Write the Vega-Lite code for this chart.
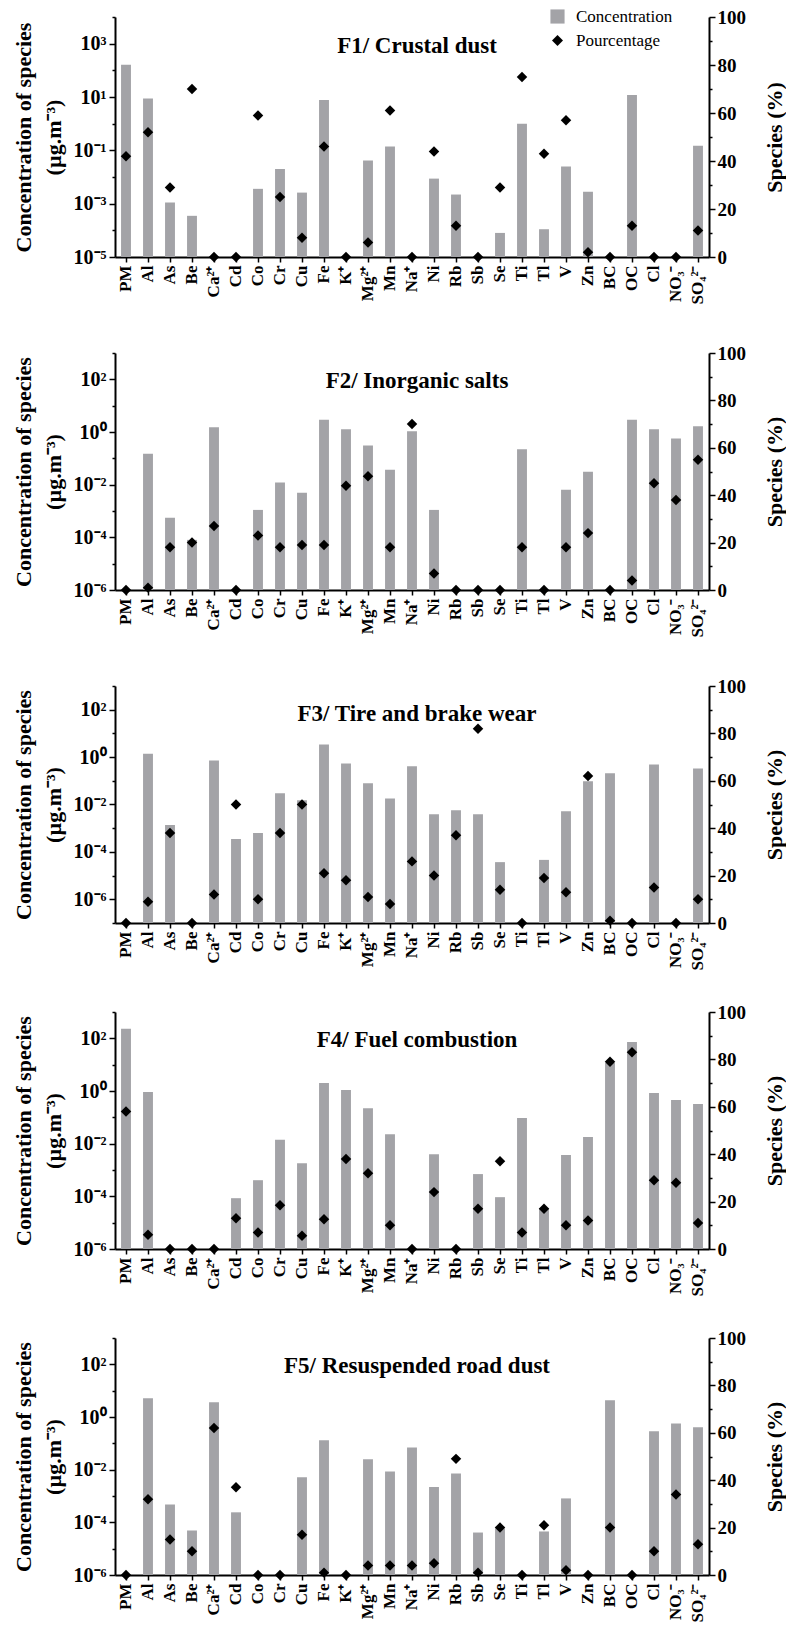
{
  "$schema": "https://vega.github.io/schema/vega-lite/v6.json",
  "padding": {"top": 7, "left": 12, "right": 0, "bottom": 0},
  "background": "white",
  "datasets": {
    "f1": [
      {"species": "PM", "conc": 163, "pct": 42},
      {"species": "Al", "conc": 8.7, "pct": 52},
      {"species": "As", "conc": 0.0011, "pct": 29},
      {"species": "Be", "conc": 0.00035, "pct": 70},
      {"species": "Ca²⁺", "conc": null, "pct": 0},
      {"species": "Cd", "conc": null, "pct": 0},
      {"species": "Co", "conc": 0.0036, "pct": 59},
      {"species": "Cr", "conc": 0.02, "pct": 25},
      {"species": "Cu", "conc": 0.0026, "pct": 8},
      {"species": "Fe", "conc": 7.7, "pct": 46},
      {"species": "K⁺", "conc": null, "pct": 0},
      {"species": "Mg²⁺", "conc": 0.042, "pct": 6},
      {"species": "Mn", "conc": 0.14, "pct": 61},
      {"species": "Na⁺", "conc": null, "pct": 0},
      {"species": "Ni", "conc": 0.0087, "pct": 44},
      {"species": "Rb", "conc": 0.0022, "pct": 13},
      {"species": "Sb", "conc": null, "pct": 0},
      {"species": "Se", "conc": 0.00008, "pct": 29},
      {"species": "Ti", "conc": 1.0, "pct": 75},
      {"species": "Tl", "conc": 0.00011, "pct": 43},
      {"species": "V", "conc": 0.025, "pct": 57},
      {"species": "Zn", "conc": 0.0028, "pct": 2},
      {"species": "BC", "conc": null, "pct": 0},
      {"species": "OC", "conc": 11.8, "pct": 13},
      {"species": "Cl", "conc": null, "pct": 0},
      {"species": "NO₃⁻", "conc": null, "pct": 0},
      {"species": "SO₄²⁻", "conc": 0.15, "pct": 11}
    ],
    "f2": [
      {"species": "PM", "conc": null, "pct": 0},
      {"species": "Al", "conc": 0.15, "pct": 1},
      {"species": "As", "conc": 0.00055, "pct": 18},
      {"species": "Be", "conc": 0.00008, "pct": 20},
      {"species": "Ca²⁺", "conc": 1.5, "pct": 27},
      {"species": "Cd", "conc": null, "pct": 0},
      {"species": "Co", "conc": 0.0011, "pct": 23},
      {"species": "Cr", "conc": 0.012, "pct": 18},
      {"species": "Cu", "conc": 0.0049, "pct": 19},
      {"species": "Fe", "conc": 2.9, "pct": 19},
      {"species": "K⁺", "conc": 1.26, "pct": 44},
      {"species": "Mg²⁺", "conc": 0.31, "pct": 48},
      {"species": "Mn", "conc": 0.037, "pct": 18},
      {"species": "Na⁺", "conc": 1.06, "pct": 70},
      {"species": "Ni", "conc": 0.0011, "pct": 7},
      {"species": "Rb", "conc": null, "pct": 0},
      {"species": "Sb", "conc": null, "pct": 0},
      {"species": "Se", "conc": null, "pct": 0},
      {"species": "Ti", "conc": 0.22, "pct": 18},
      {"species": "Tl", "conc": null, "pct": 0},
      {"species": "V", "conc": 0.0064, "pct": 18},
      {"species": "Zn", "conc": 0.031, "pct": 24},
      {"species": "BC", "conc": null, "pct": 0},
      {"species": "OC", "conc": 2.9, "pct": 4},
      {"species": "Cl", "conc": 1.26, "pct": 45},
      {"species": "NO₃⁻", "conc": 0.57, "pct": 38},
      {"species": "SO₄²⁻", "conc": 1.65, "pct": 55}
    ],
    "f3": [
      {"species": "PM", "conc": null, "pct": 0},
      {"species": "Al", "conc": 1.4, "pct": 9},
      {"species": "As", "conc": 0.00135, "pct": 38},
      {"species": "Be", "conc": null, "pct": 0},
      {"species": "Ca²⁺", "conc": 0.72, "pct": 12},
      {"species": "Cd", "conc": 0.00035, "pct": 50},
      {"species": "Co", "conc": 0.00062, "pct": 10},
      {"species": "Cr", "conc": 0.03, "pct": 38},
      {"species": "Cu", "conc": 0.015, "pct": 50},
      {"species": "Fe", "conc": 3.4, "pct": 21},
      {"species": "K⁺", "conc": 0.54, "pct": 18},
      {"species": "Mg²⁺", "conc": 0.078, "pct": 11},
      {"species": "Mn", "conc": 0.018, "pct": 8},
      {"species": "Na⁺", "conc": 0.41, "pct": 26},
      {"species": "Ni", "conc": 0.0039, "pct": 20},
      {"species": "Rb", "conc": 0.0057, "pct": 37},
      {"species": "Sb", "conc": 0.0039, "pct": 82},
      {"species": "Se", "conc": 0.000037, "pct": 14},
      {"species": "Ti", "conc": null, "pct": 0},
      {"species": "Tl", "conc": 0.000046, "pct": 19},
      {"species": "V", "conc": 0.0052, "pct": 13},
      {"species": "Zn", "conc": 0.095, "pct": 62},
      {"species": "BC", "conc": 0.21, "pct": 1},
      {"species": "OC", "conc": null, "pct": 0},
      {"species": "Cl", "conc": 0.49, "pct": 15},
      {"species": "NO₃⁻", "conc": null, "pct": 0},
      {"species": "SO₄²⁻", "conc": 0.33, "pct": 10}
    ],
    "f4": [
      {"species": "PM", "conc": 229, "pct": 58},
      {"species": "Al", "conc": 0.91, "pct": 6},
      {"species": "As", "conc": null, "pct": 0},
      {"species": "Be", "conc": null, "pct": 0},
      {"species": "Ca²⁺", "conc": null, "pct": 0},
      {"species": "Cd", "conc": 0.000085, "pct": 13},
      {"species": "Co", "conc": 0.00041, "pct": 7},
      {"species": "Cr", "conc": 0.014, "pct": 18.5},
      {"species": "Cu", "conc": 0.0018, "pct": 5.6},
      {"species": "Fe", "conc": 2.0, "pct": 12.6},
      {"species": "K⁺", "conc": 1.09, "pct": 38},
      {"species": "Mg²⁺", "conc": 0.22, "pct": 32},
      {"species": "Mn", "conc": 0.023, "pct": 10},
      {"species": "Na⁺", "conc": null, "pct": 0},
      {"species": "Ni", "conc": 0.004, "pct": 24},
      {"species": "Rb", "conc": null, "pct": 0},
      {"species": "Sb", "conc": 0.0007, "pct": 17},
      {"species": "Se", "conc": 0.000093, "pct": 37},
      {"species": "Ti", "conc": 0.094, "pct": 7},
      {"species": "Tl", "conc": 0.000036, "pct": 17},
      {"species": "V", "conc": 0.0037, "pct": 10},
      {"species": "Zn", "conc": 0.018, "pct": 12},
      {"species": "BC", "conc": 11.6, "pct": 79},
      {"species": "OC", "conc": 73, "pct": 83},
      {"species": "Cl", "conc": 0.84, "pct": 29},
      {"species": "NO₃⁻", "conc": 0.46, "pct": 28},
      {"species": "SO₄²⁻", "conc": 0.32, "pct": 11}
    ],
    "f5": [
      {"species": "PM", "conc": null, "pct": 0},
      {"species": "Al", "conc": 5.1, "pct": 32},
      {"species": "As", "conc": 0.00048, "pct": 15},
      {"species": "Be", "conc": 0.000049, "pct": 10},
      {"species": "Ca²⁺", "conc": 3.6, "pct": 62},
      {"species": "Cd", "conc": 0.00024, "pct": 37},
      {"species": "Co", "conc": null, "pct": 0},
      {"species": "Cr", "conc": null, "pct": 0},
      {"species": "Cu", "conc": 0.0051, "pct": 17},
      {"species": "Fe", "conc": 0.13, "pct": 1},
      {"species": "K⁺", "conc": null, "pct": 0},
      {"species": "Mg²⁺", "conc": 0.025, "pct": 4},
      {"species": "Mn", "conc": 0.0086, "pct": 4},
      {"species": "Na⁺", "conc": 0.07, "pct": 4},
      {"species": "Ni", "conc": 0.0022, "pct": 5},
      {"species": "Rb", "conc": 0.0072, "pct": 49},
      {"species": "Sb", "conc": 0.000041, "pct": 1},
      {"species": "Se", "conc": 0.000059, "pct": 20},
      {"species": "Ti", "conc": null, "pct": 0},
      {"species": "Tl", "conc": 0.000045, "pct": 21},
      {"species": "V", "conc": 0.00081, "pct": 2},
      {"species": "Zn", "conc": null, "pct": 0},
      {"species": "BC", "conc": 4.3, "pct": 20},
      {"species": "OC", "conc": null, "pct": 0},
      {"species": "Cl", "conc": 0.29, "pct": 10},
      {"species": "NO₃⁻", "conc": 0.57, "pct": 34},
      {"species": "SO₄²⁻", "conc": 0.41, "pct": 13}
    ]
  },
  "spacing": 39,
  "vconcat": [
    {
      "width": 594, "height": 240,
      "data": {"name": "f1"},
      "title": {"text": "F1/ Crustal dust", "offset": -51, "dx": 5},
      "encoding": {
        "x": {"field": "species", "type": "nominal", "sort": null,
              "scale": {"domain": ["PM","Al","As","Be","Ca²⁺","Cd","Co","Cr","Cu","Fe","K⁺","Mg²⁺","Mn","Na⁺","Ni","Rb","Sb","Se","Ti","Tl","V","Zn","BC","OC","Cl","NO₃⁻","SO₄²⁻"], "paddingInner": 0.55, "paddingOuter": 0.275},
              "axis": {"title": null, "labelAngle": -90, "labelAlign": "right", "labelBaseline": "middle", "labelFontSize": 17, "tickSize": 5, "labelPadding": 3}}
      },
      "layer": [
        {
          "mark": {"type": "bar"},
          "encoding": {
            "y": {"field": "conc", "type": "quantitative", "scale": {"type": "log", "domain": [0.00001, 10000], "nice": false},
                  "axis": {"title": ["Concentration of species", "(µg.m⁻³)"], "values": [0.00001, 0.0001, 0.001, 0.01, 0.1, 1, 10, 100, 1000, 10000],
                           "labelExpr": "abs(round(log(datum.value)/LN10)) % 2 == 1 ? '10' + replace(replace(replace(replace(replace(replace(replace(replace(replace('' + round(log(datum.value)/LN10), '-', '⁻'), '0', '⁰'), '1', '¹'), '2', '²'), '3', '³'), '4', '⁴'), '5', '⁵'), '6', '⁶'), '7', '⁷') : ''",
                           "tickSize": {"condition": {"test": "abs(round(log(datum.value)/LN10)) % 2 == 1", "value": 6}, "value": 3}}},
            "y2": {"datum": 0.00001},
            "color": {"datum": "Concentration", "type": "nominal", "scale": {"range": ["#a3a3a7"]},
                      "legend": {"orient": "none", "legendX": 434, "legendY": -9, "title": null, "symbolType": "square", "symbolSize": 200, "symbolStrokeWidth": 0}}
          }
        },
        {
          "mark": {"type": "point", "filled": true, "color": "black", "size": 110, "opacity": 1, "clip": false},
          "encoding": {
            "y": {"field": "pct", "type": "quantitative", "scale": {"domain": [0, 100], "nice": false},
                  "axis": {"orient": "right", "title": "Species (%)", "titleAngle": -90, "titleBaseline": "top", "values": [0, 10, 20, 30, 40, 50, 60, 70, 80, 90, 100],
                           "labelExpr": "datum.value % 20 == 0 ? datum.label : ''", "labelFontSize": 19, "labelPadding": 2, "titlePadding": 19,
                           "tickSize": {"condition": {"test": "datum.value % 20 == 0", "value": 6}, "value": 3}}},
            "shape": {"datum": "Pourcentage", "type": "nominal", "scale": {"range": ["diamond"]},
                      "legend": {"orient": "none", "legendX": 434, "legendY": 15, "title": null, "symbolFillColor": "black", "symbolStrokeColor": "black", "symbolSize": 120}}
          }
        }
      ],
      "resolve": {"scale": {"y": "independent"}}
    },
    {
      "width": 594, "height": 237,
      "data": {"name": "f2"},
      "title": {"text": "F2/ Inorganic salts", "offset": -50, "dx": 5},
      "encoding": {
        "x": {"field": "species", "type": "nominal", "sort": null,
              "scale": {"domain": ["PM","Al","As","Be","Ca²⁺","Cd","Co","Cr","Cu","Fe","K⁺","Mg²⁺","Mn","Na⁺","Ni","Rb","Sb","Se","Ti","Tl","V","Zn","BC","OC","Cl","NO₃⁻","SO₄²⁻"], "paddingInner": 0.55, "paddingOuter": 0.275},
              "axis": {"title": null, "labelAngle": -90, "labelAlign": "right", "labelBaseline": "middle", "labelFontSize": 17, "tickSize": 5, "labelPadding": 3}}
      },
      "layer": [
        {
          "mark": {"type": "bar", "color": "#a3a3a7"},
          "encoding": {
            "y": {"field": "conc", "type": "quantitative", "scale": {"type": "log", "domain": [0.000001, 1000], "nice": false},
                  "axis": {"title": ["Concentration of species", "(µg.m⁻³)"], "values": [0.000001, 0.00001, 0.0001, 0.001, 0.01, 0.1, 1, 10, 100, 1000],
                           "labelExpr": "abs(round(log(datum.value)/LN10)) % 2 == 0 && datum.value < 500 ? '10' + replace(replace(replace(replace(replace(replace(replace(replace(replace('' + round(log(datum.value)/LN10), '-', '⁻'), '0', '⁰'), '1', '¹'), '2', '²'), '3', '³'), '4', '⁴'), '5', '⁵'), '6', '⁶'), '7', '⁷') : ''",
                           "tickSize": {"condition": {"test": "abs(round(log(datum.value)/LN10)) % 2 == 0 && datum.value < 500", "value": 6}, "value": 3}}},
            "y2": {"datum": 0.000001}
          }
        },
        {
          "mark": {"type": "point", "shape": "diamond", "filled": true, "color": "black", "size": 110, "opacity": 1, "clip": false},
          "encoding": {
            "y": {"field": "pct", "type": "quantitative", "scale": {"domain": [0, 100], "nice": false},
                  "axis": {"orient": "right", "title": "Species (%)", "titleAngle": -90, "titleBaseline": "top", "values": [0, 10, 20, 30, 40, 50, 60, 70, 80, 90, 100],
                           "labelExpr": "datum.value % 20 == 0 ? datum.label : ''", "labelFontSize": 19, "labelPadding": 2, "titlePadding": 19,
                           "tickSize": {"condition": {"test": "datum.value % 20 == 0", "value": 6}, "value": 3}}}
          }
        }
      ],
      "resolve": {"scale": {"y": "independent"}}
    },
    {
      "spacing": 32,
      "vconcat": [
        {
          "width": 594, "height": 237,
          "data": {"name": "f3"},
          "title": {"text": "F3/ Tire and brake wear", "offset": -50, "dx": 5},
          "encoding": {
            "x": {"field": "species", "type": "nominal", "sort": null,
                  "scale": {"domain": ["PM","Al","As","Be","Ca²⁺","Cd","Co","Cr","Cu","Fe","K⁺","Mg²⁺","Mn","Na⁺","Ni","Rb","Sb","Se","Ti","Tl","V","Zn","BC","OC","Cl","NO₃⁻","SO₄²⁻"], "paddingInner": 0.55, "paddingOuter": 0.275},
                  "axis": {"title": null, "labelAngle": -90, "labelAlign": "right", "labelBaseline": "middle", "labelFontSize": 17, "tickSize": 5, "labelPadding": 3}}
          },
          "layer": [
            {
              "mark": {"type": "bar", "color": "#a3a3a7"},
              "encoding": {
                "y": {"field": "conc", "type": "quantitative", "scale": {"type": "log", "domain": [0.0000001, 1000], "nice": false},
                      "axis": {"title": ["Concentration of species", "(µg.m⁻³)"], "values": [0.0000001, 0.000001, 0.00001, 0.0001, 0.001, 0.01, 0.1, 1, 10, 100, 1000],
                               "labelExpr": "abs(round(log(datum.value)/LN10)) % 2 == 0 && datum.value < 500 ? '10' + replace(replace(replace(replace(replace(replace(replace(replace(replace('' + round(log(datum.value)/LN10), '-', '⁻'), '0', '⁰'), '1', '¹'), '2', '²'), '3', '³'), '4', '⁴'), '5', '⁵'), '6', '⁶'), '7', '⁷') : ''",
                               "tickSize": {"condition": {"test": "abs(round(log(datum.value)/LN10)) % 2 == 0 && datum.value < 500", "value": 6}, "value": 3}}},
                "y2": {"datum": 0.0000001}
              }
            },
            {
              "mark": {"type": "point", "shape": "diamond", "filled": true, "color": "black", "size": 110, "opacity": 1, "clip": false},
              "encoding": {
                "y": {"field": "pct", "type": "quantitative", "scale": {"domain": [0, 100], "nice": false},
                      "axis": {"orient": "right", "title": "Species (%)", "titleAngle": -90, "titleBaseline": "top", "values": [0, 10, 20, 30, 40, 50, 60, 70, 80, 90, 100],
                               "labelExpr": "datum.value % 20 == 0 ? datum.label : ''", "labelFontSize": 19, "labelPadding": 2, "titlePadding": 19,
                               "tickSize": {"condition": {"test": "datum.value % 20 == 0", "value": 6}, "value": 3}}}
              }
            }
          ],
          "resolve": {"scale": {"y": "independent"}}
        },
        {
          "width": 594, "height": 237,
          "data": {"name": "f4"},
          "title": {"text": "F4/ Fuel combustion", "offset": -50, "dx": 5},
          "encoding": {
            "x": {"field": "species", "type": "nominal", "sort": null,
                  "scale": {"domain": ["PM","Al","As","Be","Ca²⁺","Cd","Co","Cr","Cu","Fe","K⁺","Mg²⁺","Mn","Na⁺","Ni","Rb","Sb","Se","Ti","Tl","V","Zn","BC","OC","Cl","NO₃⁻","SO₄²⁻"], "paddingInner": 0.55, "paddingOuter": 0.275},
                  "axis": {"title": null, "labelAngle": -90, "labelAlign": "right", "labelBaseline": "middle", "labelFontSize": 17, "tickSize": 5, "labelPadding": 3}}
          },
          "layer": [
            {
              "mark": {"type": "bar", "color": "#a3a3a7"},
              "encoding": {
                "y": {"field": "conc", "type": "quantitative", "scale": {"type": "log", "domain": [0.000001, 1000], "nice": false},
                      "axis": {"title": ["Concentration of species", "(µg.m⁻³)"], "values": [0.000001, 0.00001, 0.0001, 0.001, 0.01, 0.1, 1, 10, 100, 1000],
                               "labelExpr": "abs(round(log(datum.value)/LN10)) % 2 == 0 && datum.value < 500 ? '10' + replace(replace(replace(replace(replace(replace(replace(replace(replace('' + round(log(datum.value)/LN10), '-', '⁻'), '0', '⁰'), '1', '¹'), '2', '²'), '3', '³'), '4', '⁴'), '5', '⁵'), '6', '⁶'), '7', '⁷') : ''",
                               "tickSize": {"condition": {"test": "abs(round(log(datum.value)/LN10)) % 2 == 0 && datum.value < 500", "value": 6}, "value": 3}}},
                "y2": {"datum": 0.000001}
              }
            },
            {
              "mark": {"type": "point", "shape": "diamond", "filled": true, "color": "black", "size": 110, "opacity": 1, "clip": false},
              "encoding": {
                "y": {"field": "pct", "type": "quantitative", "scale": {"domain": [0, 100], "nice": false},
                      "axis": {"orient": "right", "title": "Species (%)", "titleAngle": -90, "titleBaseline": "top", "values": [0, 10, 20, 30, 40, 50, 60, 70, 80, 90, 100],
                               "labelExpr": "datum.value % 20 == 0 ? datum.label : ''", "labelFontSize": 19, "labelPadding": 2, "titlePadding": 19,
                               "tickSize": {"condition": {"test": "datum.value % 20 == 0", "value": 6}, "value": 3}}}
              }
            }
          ],
          "resolve": {"scale": {"y": "independent"}}
        },
        {
          "width": 594, "height": 237,
          "data": {"name": "f5"},
          "title": {"text": "F5/ Resuspended road dust", "offset": -50, "dx": 5},
          "encoding": {
            "x": {"field": "species", "type": "nominal", "sort": null,
                  "scale": {"domain": ["PM","Al","As","Be","Ca²⁺","Cd","Co","Cr","Cu","Fe","K⁺","Mg²⁺","Mn","Na⁺","Ni","Rb","Sb","Se","Ti","Tl","V","Zn","BC","OC","Cl","NO₃⁻","SO₄²⁻"], "paddingInner": 0.55, "paddingOuter": 0.275},
                  "axis": {"title": null, "labelAngle": -90, "labelAlign": "right", "labelBaseline": "middle", "labelFontSize": 17, "tickSize": 5, "labelPadding": 3}}
          },
          "layer": [
            {
              "mark": {"type": "bar", "color": "#a3a3a7"},
              "encoding": {
                "y": {"field": "conc", "type": "quantitative", "scale": {"type": "log", "domain": [0.000001, 1000], "nice": false},
                      "axis": {"title": ["Concentration of species", "(µg.m⁻³)"], "values": [0.000001, 0.00001, 0.0001, 0.001, 0.01, 0.1, 1, 10, 100, 1000],
                               "labelExpr": "abs(round(log(datum.value)/LN10)) % 2 == 0 && datum.value < 500 ? '10' + replace(replace(replace(replace(replace(replace(replace(replace(replace('' + round(log(datum.value)/LN10), '-', '⁻'), '0', '⁰'), '1', '¹'), '2', '²'), '3', '³'), '4', '⁴'), '5', '⁵'), '6', '⁶'), '7', '⁷') : ''",
                               "tickSize": {"condition": {"test": "abs(round(log(datum.value)/LN10)) % 2 == 0 && datum.value < 500", "value": 6}, "value": 3}}},
                "y2": {"datum": 0.000001}
              }
            },
            {
              "mark": {"type": "point", "shape": "diamond", "filled": true, "color": "black", "size": 110, "opacity": 1, "clip": false},
              "encoding": {
                "y": {"field": "pct", "type": "quantitative", "scale": {"domain": [0, 100], "nice": false},
                      "axis": {"orient": "right", "title": "Species (%)", "titleAngle": -90, "titleBaseline": "top", "values": [0, 10, 20, 30, 40, 50, 60, 70, 80, 90, 100],
                               "labelExpr": "datum.value % 20 == 0 ? datum.label : ''", "labelFontSize": 19, "labelPadding": 2, "titlePadding": 19,
                               "tickSize": {"condition": {"test": "datum.value % 20 == 0", "value": 6}, "value": 3}}}
              }
            }
          ],
          "resolve": {"scale": {"y": "independent"}}
        }
      ]
    }
  ],
  "resolve": {"legend": {"color": "independent", "shape": "independent"}},
  "config": {
    "view": {"stroke": null},
    "font": "Liberation Serif",
    "axis": {"labelFont": "Liberation Serif", "titleFont": "Liberation Serif", "labelFontWeight": "bold", "titleFontWeight": "bold",
             "labelColor": "black", "titleColor": "black", "domainColor": "black", "tickColor": "black", "domainWidth": 2, "tickWidth": 1.5,
             "grid": false, "labelFontSize": 20, "titleFontSize": 22, "titleLineHeight": 30, "labelOverlap": false, "labelFlush": false, "labelPadding": 3, "titlePadding": 8},
    "title": {"font": "Liberation Serif", "fontSize": 23, "fontWeight": "bold", "color": "black", "anchor": "middle", "frame": "group"},
    "legend": {"labelFont": "Liberation Serif", "labelFontSize": 17, "labelColor": "black", "padding": 0, "labelOffset": 10}
  }
}
